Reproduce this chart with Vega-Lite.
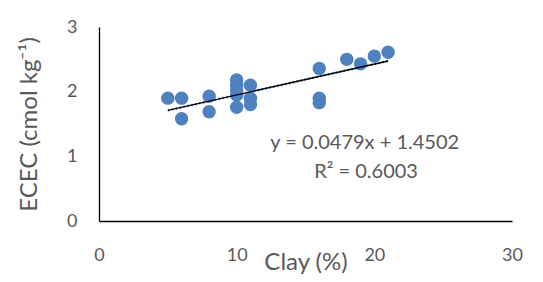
{
  "$schema": "https://vega.github.io/schema/vega-lite/v6.json",
  "width": 413,
  "height": 194,
  "autosize": {"type": "none"},
  "padding": {"left": 99, "top": 27, "right": 31, "bottom": 61},
  "background": "white",
  "config": {
    "view": {"stroke": null},
    "font": "Lato",
    "axis": {"grid": false, "ticks": false, "domainColor": "#000000", "domainWidth": 1.3, "labelColor": "#595959", "titleColor": "#595959", "labelFontSize": 18, "titleFontSize": 24, "labelFont": "Lato", "titleFont": "Lato", "titleFontWeight": "normal"}
  },
  "datasets": {
    "points": [
      {"clay": 5, "ecec": 1.90},
      {"clay": 6, "ecec": 1.90},
      {"clay": 6, "ecec": 1.58},
      {"clay": 8, "ecec": 1.93},
      {"clay": 8, "ecec": 1.69},
      {"clay": 10, "ecec": 2.18},
      {"clay": 10, "ecec": 2.10},
      {"clay": 10, "ecec": 2.02},
      {"clay": 10, "ecec": 1.95},
      {"clay": 10, "ecec": 1.76},
      {"clay": 11, "ecec": 2.10},
      {"clay": 11, "ecec": 1.90},
      {"clay": 11, "ecec": 1.80},
      {"clay": 16, "ecec": 2.36},
      {"clay": 16, "ecec": 1.90},
      {"clay": 16, "ecec": 1.83},
      {"clay": 18, "ecec": 2.50},
      {"clay": 19, "ecec": 2.43},
      {"clay": 20, "ecec": 2.55},
      {"clay": 21, "ecec": 2.61}
    ],
    "labels": [
      {"clay": 19.3, "ecec": 1.2, "label": "y = 0.0479x + 1.4502"},
      {"clay": 19.4, "ecec": 0.76, "label": "R² = 0.6003"}
    ]
  },
  "encoding": {
    "x": {"field": "clay", "type": "quantitative", "scale": {"domain": [0, 30], "nice": false},
      "axis": {"values": [0, 10, 20, 30], "title": "Clay (%)", "labelPadding": 25, "titlePadding": -14, "labelFlush": false}},
    "y": {"field": "ecec", "type": "quantitative", "scale": {"domain": [0, 3], "nice": false},
      "axis": {"values": [0, 1, 2, 3], "title": "ECEC (cmol kg⁻¹)", "labelPadding": 22, "titlePadding": 25, "labelFlush": false}}
  },
  "layer": [
    {"data": {"name": "points"}, "mark": {"type": "circle", "size": 180, "color": "#4f80bf", "opacity": 1}},
    {"data": {"name": "points"}, "transform": [{"regression": "ecec", "on": "clay", "extent": [5, 21]}],
      "mark": {"type": "line", "color": "#4f80bf", "strokeWidth": 2.5, "strokeDash": [1.5, 2.5]}},
    {"data": {"name": "points"}, "transform": [{"regression": "ecec", "on": "clay", "extent": [5, 21]}],
      "mark": {"type": "line", "color": "#000000", "strokeWidth": 1.4}},
    {"data": {"name": "labels"},
      "mark": {"type": "text", "fontSize": 20, "color": "#595959", "font": "Lato"},
      "encoding": {"text": {"field": "label"}}}
  ]
}
